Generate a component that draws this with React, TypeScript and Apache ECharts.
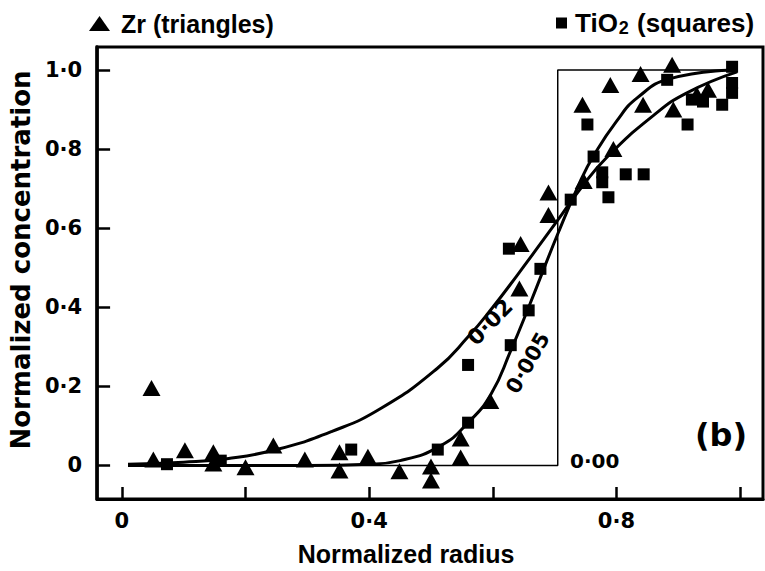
import React, { useEffect, useRef } from 'react';
import * as echarts from 'echarts';

// ---- data ----
const zrTriangles: number[][] = [
  [0.048, 0.196], [0.051, 0.015], [0.102, 0.038], [0.148, 0.033], [0.148, 0.005],
  [0.2, -0.005], [0.245, 0.05], [0.296, 0.015], [0.352, 0.033], [0.352, -0.013],
  [0.398, 0.022], [0.449, -0.015], [0.5, -0.003], [0.5, -0.038], [0.548, 0.02],
  [0.548, 0.068], [0.596, 0.163], [0.643, 0.447], [0.645, 0.56], [0.69, 0.633],
  [0.69, 0.69], [0.745, 0.912], [0.79, 0.962], [0.839, 0.99], [0.89, 1.013],
  [0.843, 0.912], [0.892, 0.9], [0.795, 0.8], [0.747, 0.719], [0.93, 0.937],
  [0.948, 0.95],
];

const tio2Squares: number[][] = [
  [0.073, 0.003], [0.16, 0.012], [0.371, 0.04], [0.511, 0.04], [0.56, 0.108],
  [0.56, 0.254], [0.629, 0.304], [0.658, 0.392], [0.677, 0.497], [0.626, 0.548],
  [0.726, 0.672], [0.763, 0.781], [0.777, 0.741], [0.777, 0.716], [0.787, 0.678],
  [0.815, 0.736], [0.844, 0.736], [0.753, 0.862], [0.882, 0.975], [0.915, 0.862],
  [0.922, 0.925], [0.94, 0.92], [0.971, 0.912], [0.987, 1.008], [0.987, 0.967],
  [0.987, 0.942],
];

const curve002: number[][] = [
  [0.01, 0.003], [0.1, 0.008], [0.17, 0.017], [0.25, 0.04], [0.34, 0.086],
  [0.42, 0.145], [0.51, 0.245], [0.56, 0.325], [0.6, 0.4], [0.64, 0.482],
  [0.705, 0.62], [0.742, 0.7], [0.785, 0.78], [0.86, 0.885], [0.914, 0.942],
  [0.995, 0.995],
];

const curve0005: number[][] = [
  [0.01, 0.0], [0.3, 0.0], [0.4, 0.003], [0.45, 0.012], [0.516, 0.05],
  [0.56, 0.108], [0.597, 0.18], [0.629, 0.29], [0.658, 0.4], [0.705, 0.585],
  [0.742, 0.72], [0.763, 0.783], [0.8, 0.87], [0.834, 0.93], [0.887, 0.978],
  [0.995, 1.0],
];

const stepProfile: number[][] = [
  [0.01, 0.0], [0.705, 0.0], [0.705, 1.0], [0.995, 1.0],
];

const xTickValues = [0, 0.2, 0.4, 0.6, 0.8, 1.0];
const xLabelValues = [0, 0.4, 0.8];
const yTickValues = [0, 0.2, 0.4, 0.6, 0.8, 1.0];

const curveLabels = ['0·02', '0·005', '0·00'];
const panelLabel = '(b)';

const X_MIN = -0.04;
const X_MAX = 1.037;
const Y_MIN = -0.085;
const Y_MAX = 1.058;

const fmt = (v: number) => (Math.abs(v) < 1e-9 ? '0' : v.toFixed(1).replace('.', '·'));

const ARIAL = '"Liberation Sans", Arial, Helvetica, sans-serif';
const DEJAVU = '"DejaVu Sans", sans-serif';

export default function App() {
  const ref = useRef<HTMLDivElement>(null);

  useEffect(() => {
    document.body.style.margin = '0';
    if (!ref.current) return;
    const chart = echarts.init(ref.current, null, { renderer: 'svg' });

    const tickLabelStyle = {
      color: '#000',
      fontFamily: DEJAVU,
      fontWeight: 'bold' as const,
      fontSize: 21,
    };

    const option: any = {
      animation: false,
      backgroundColor: '#fff',
      grid: {
        left: 95,
        right: 2,
        top: 47,
        bottom: 69,
        show: true,
        borderColor: '#000',
        borderWidth: 3,
        backgroundColor: 'transparent',
      },
      legend: [
        {
          left: 89,
          top: 11,
          padding: 0,
          selectedMode: false,
          itemWidth: 21,
          itemHeight: 15,
          data: [{ name: 'Zr (triangles)', icon: 'triangle' }],
          textStyle: {
            color: '#000',
            fontFamily: ARIAL,
            fontWeight: 'bold',
            fontSize: 25,
            padding: [0, 0, 0, 6],
          },
        },
        {
          left: 556,
          top: 10,
          padding: 0,
          selectedMode: false,
          itemWidth: 11,
          itemHeight: 11,
          data: [{ name: 'TiO2 (squares)', icon: 'rect' }],
          formatter: () => 'TiO{sub|2} (squares)',
          textStyle: {
            color: '#000',
            fontFamily: ARIAL,
            fontWeight: 'bold',
            fontSize: 26,
            padding: [0, 0, 0, 3],
            rich: {
              sub: {
                fontFamily: ARIAL,
                fontWeight: 'bold',
                fontSize: 18,
                verticalAlign: 'bottom',
                padding: [9, 1, 0, 1],
              },
            },
          },
        },
      ],
      xAxis: {
        type: 'value',
        min: X_MIN,
        max: X_MAX,
        name: 'Normalized radius',
        nameLocation: 'middle',
        nameGap: 42,
        nameTextStyle: {
          color: '#000',
          fontFamily: ARIAL,
          fontWeight: 'bold',
          fontSize: 25,
          padding: [0, 48, 0, 0],
        },
        axisLine: { show: true, onZero: false, lineStyle: { color: '#000', width: 3 } },
        axisTick: {
          show: true,
          inside: true,
          length: 12,
          customValues: xTickValues,
          lineStyle: { color: '#000', width: 2.5 },
        },
        axisLabel: { ...tickLabelStyle, margin: 11, customValues: xLabelValues, formatter: fmt },
        splitLine: { show: false },
      },
      yAxis: {
        type: 'value',
        min: Y_MIN,
        max: Y_MAX,
        name: 'Normalized concentration',
        nameLocation: 'middle',
        nameRotate: 90,
        nameGap: 58,
        nameTextStyle: {
          color: '#000',
          fontFamily: DEJAVU,
          fontWeight: 'bold',
          fontSize: 26,
          padding: [0, 0, 0, 26],
        },
        axisLine: { show: true, onZero: false, lineStyle: { color: '#000', width: 3.5 } },
        axisTick: {
          show: true,
          inside: true,
          length: 13,
          customValues: yTickValues,
          lineStyle: { color: '#000', width: 2.5 },
        },
        axisLabel: { ...tickLabelStyle, margin: 15, customValues: yTickValues, formatter: fmt },
        splitLine: { show: false },
      },
      series: [
        {
          name: 'step',
          type: 'line',
          data: stepProfile,
          symbol: 'none',
          lineStyle: { color: '#000', width: 1.5 },
          silent: true,
          z: 1,
        },
        {
          name: 'D=0.02',
          type: 'line',
          data: curve002,
          symbol: 'none',
          smooth: 0.5,
          lineStyle: { color: '#000', width: 3 },
          z: 2,
        },
        {
          name: 'D=0.005',
          type: 'line',
          data: curve0005,
          symbol: 'none',
          smooth: 0.5,
          lineStyle: { color: '#000', width: 3 },
          z: 2,
        },
        {
          name: 'Zr (triangles)',
          type: 'scatter',
          data: zrTriangles,
          symbol: 'triangle',
          symbolSize: [18, 16],
          itemStyle: { color: '#000', opacity: 1 },
          z: 3,
        },
        {
          name: 'TiO2 (squares)',
          type: 'scatter',
          data: tio2Squares,
          symbol: 'rect',
          symbolSize: 12,
          itemStyle: { color: '#000', opacity: 1 },
          z: 3,
        },
      ],
      graphic: [
        {
          type: 'text',
          x: 490,
          y: 322,
          rotation: 0.8,
          style: {
            text: curveLabels[0],
            font: `bold 22px ${DEJAVU}`,
            fill: '#000',
            align: 'center',
            verticalAlign: 'middle',
            textAlign: 'center',
            textVerticalAlign: 'middle',
          },
          z: 10,
        },
        {
          type: 'text',
          x: 528,
          y: 363,
          rotation: 1.05,
          style: {
            text: curveLabels[1],
            font: `bold 21px ${DEJAVU}`,
            fill: '#000',
            align: 'center',
            verticalAlign: 'middle',
            textAlign: 'center',
            textVerticalAlign: 'middle',
          },
          z: 10,
        },
        {
          type: 'text',
          x: 570,
          y: 461,
          style: {
            text: curveLabels[2],
            font: `bold 20px ${DEJAVU}`,
            fill: '#000',
            align: 'left',
            verticalAlign: 'middle',
            textAlign: 'left',
            textVerticalAlign: 'middle',
          },
          z: 10,
        },
        {
          type: 'text',
          x: 721,
          y: 435,
          style: {
            text: panelLabel,
            font: `bold 32px ${DEJAVU}`,
            fill: '#000',
            align: 'center',
            verticalAlign: 'middle',
            textAlign: 'center',
            textVerticalAlign: 'middle',
          },
          z: 10,
        },
      ],
    };

    chart.setOption(option);
    return () => chart.dispose();
  }, []);

  return <div ref={ref} style={{ width: 765, height: 571 }} />;
}
